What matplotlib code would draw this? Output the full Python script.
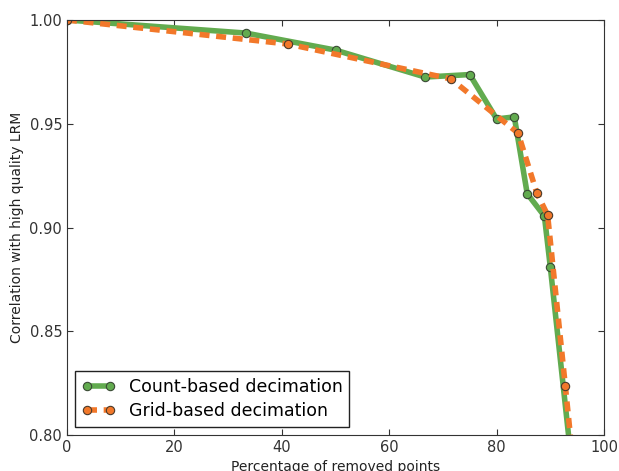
import matplotlib
matplotlib.use("Agg")
import matplotlib.pyplot as plt

count_x = [0, 33.3, 50, 66.7, 75, 80, 83.3, 85.7, 88.9, 90, 95.2]
count_y = [1.0, 0.9937, 0.9855, 0.9725, 0.9737, 0.9523, 0.9533, 0.9163, 0.9055, 0.881, 0.757]
grid_x = [0, 41.2, 71.5, 84.0, 87.5, 89.5, 92.8, 95.5]
grid_y = [1.0, 0.9884, 0.9716, 0.9455, 0.9166, 0.906, 0.8236, 0.755]

green = '#62ab4f'
orange = '#f2782a'

fig = plt.figure(figsize=(6.19, 4.71), dpi=100)
ax = fig.add_axes([67/619, 1-435/471, (604-67)/619, (435-20)/471])

ax.plot(count_x, count_y, '-', color=green, lw=4, marker='o', ms=6,
        mfc=green, mec='#3a4a35', mew=0.8, label='Count-based decimation')
ax.plot(grid_x, grid_y, '--', color=orange, lw=4, dashes=(1.8, 1.2), marker='o', ms=6,
        mfc=orange, mec='#4a3a2a', mew=0.8, label='Grid-based decimation')

ax.set_xlim(0, 100)
ax.set_ylim(0.80, 1.00)
ax.set_xticks([0, 20, 40, 60, 80, 100])
ax.set_yticks([0.80, 0.85, 0.90, 0.95, 1.00])
ax.set_yticklabels(['0.80', '0.85', '0.90', '0.95', '1.00'])
ax.tick_params(direction='in', top=True, right=True, labelsize=10.5, colors='#333333', length=4)
for s in ax.spines.values():
    s.set_color('#333333')
ax.set_xlabel('Percentage of removed points', fontsize=10, color='#222222')
ax.set_ylabel('Correlation with high quality LRM', fontsize=10, color='#222222')

leg = ax.legend(loc='lower left', fontsize=12.5, numpoints=2, fancybox=False,
                framealpha=1, edgecolor='#222222', borderaxespad=0.45, handlelength=1.9,
                handletextpad=0.8, labelspacing=0.35)
leg.get_frame().set_linewidth(1.0)

fig.savefig('out.png', dpi=100, facecolor='white')
